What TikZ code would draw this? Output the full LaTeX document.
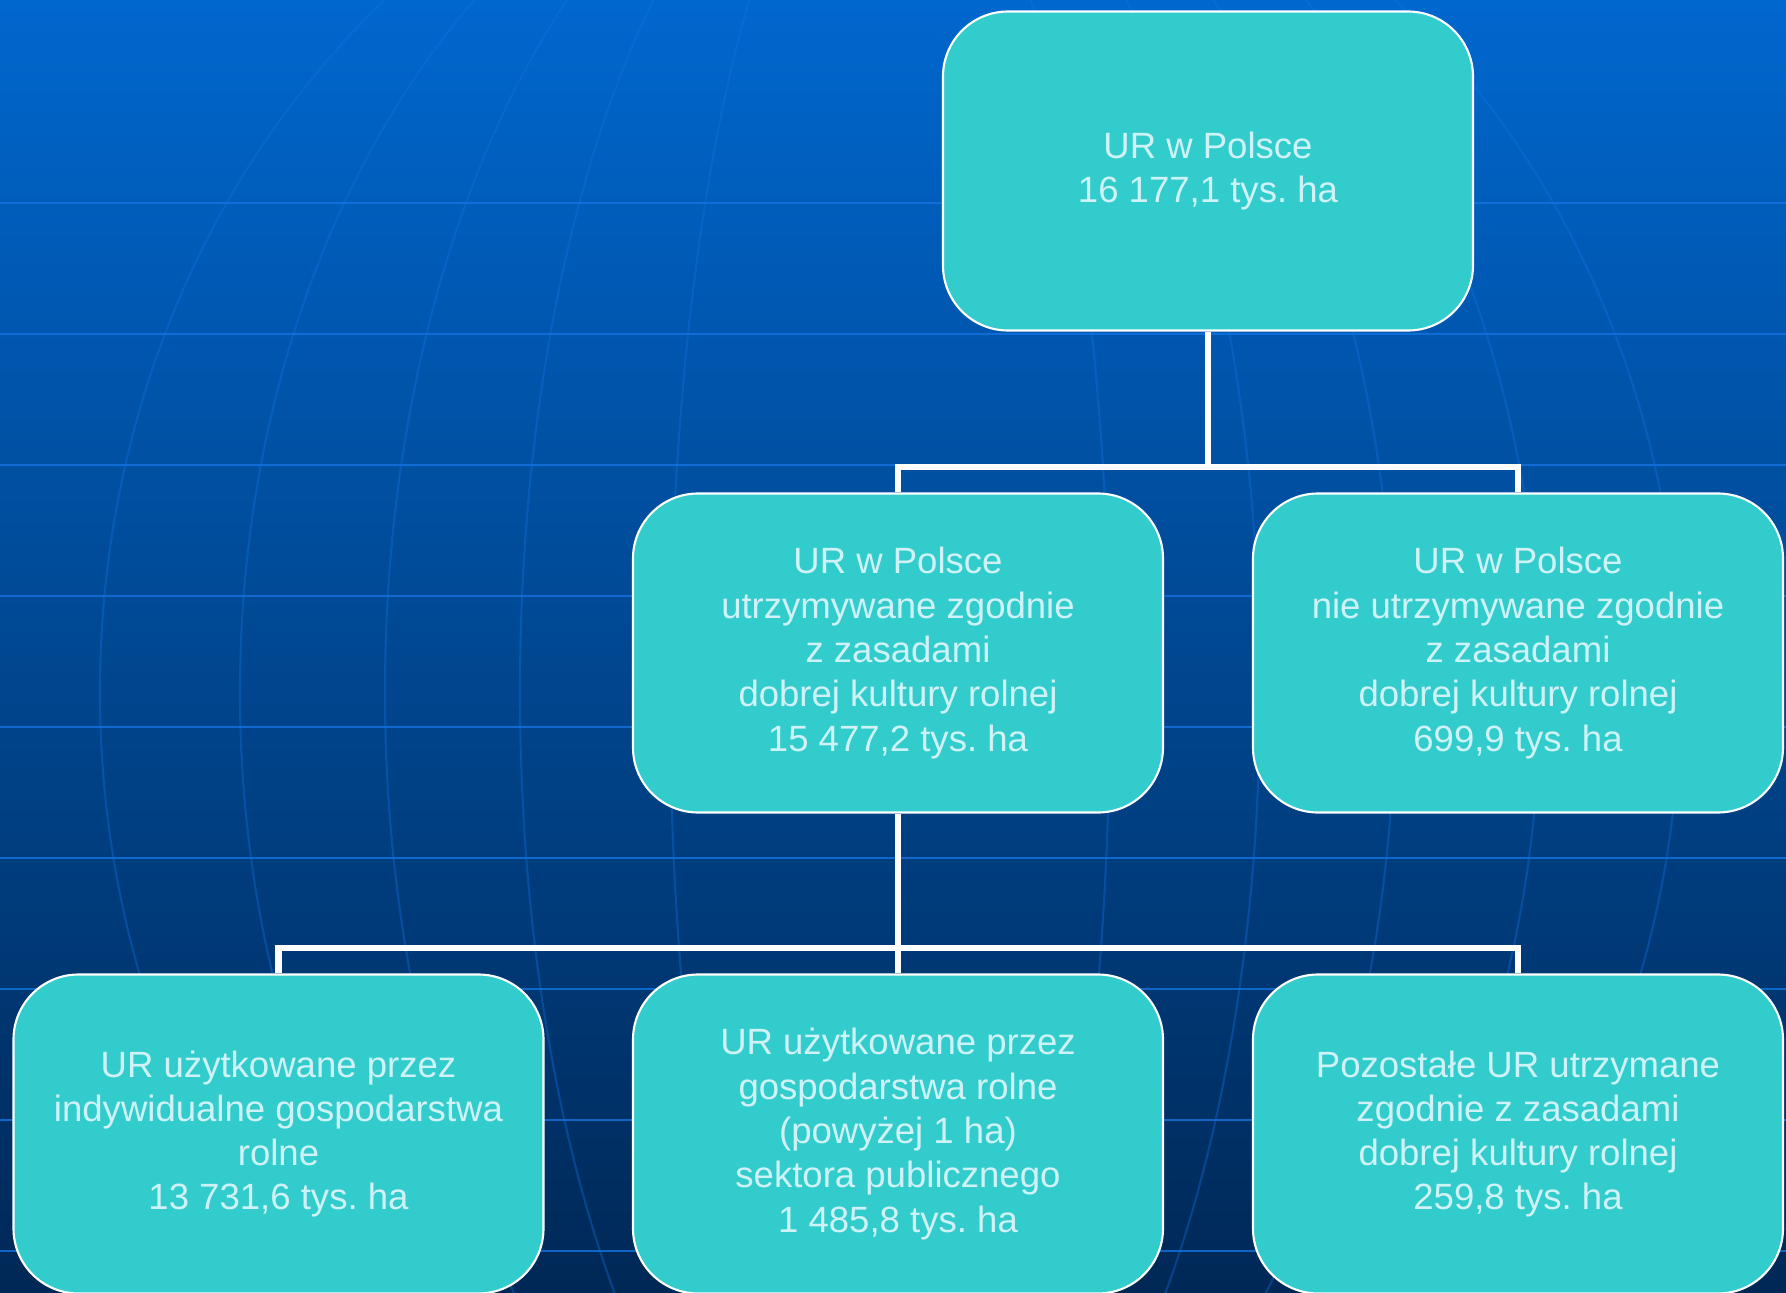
\documentclass[tikz,border=0pt]{standalone}
\usepackage{fontspec}
\setmainfont{Liberation Sans}
\usepackage{tikz}
\usetikzlibrary{calc}
\frenchspacing

\definecolor{bgtop}{RGB}{0,103,206}
\definecolor{bgbot}{RGB}{0,40,86}
\definecolor{gridblue}{RGB}{20,115,225}
\definecolor{boxfill}{RGB}{51,204,204}
\definecolor{boxtext}{RGB}{206,242,246}

\tikzset{
	urbox/.style={draw=white, line width=0.6pt, fill=boxfill, text=boxtext,
		rounded corners=0.65cm, minimum width=5.3cm, minimum height=3.19cm,
		inner sep=0pt, align=center, font=\fontsize{10.4}{12.6}\selectfont},
	conn/.style={draw=white, line width=1.9pt},
	globe/.style={draw=gridblue, line width=0.6pt, opacity=0.35}
}

\begin{document}
\begin{tikzpicture}
	\useasboundingbox (0,0) rectangle (17.86,12.92);
	\shade[top color=bgtop, bottom color=bgbot] (0,0) rectangle (17.86,12.92);
	\begin{scope}
		\clip (0,0) rectangle (17.86,12.92);
		\foreach \y in {10.89,9.58,8.27,6.96,5.65,4.34,3.03,1.72,0.41}
			\draw[globe, opacity=0.8] (0,\y) -- (17.86,\y);
		\foreach \a in {7.9,6.5,5.05,3.7,2.2}
			\draw[globe] (8.9,6.0) ellipse (\a cm and 9cm);
	\end{scope}
	\coordinate (J1) at (12.08,8.25);
	\coordinate (J2) at (8.98,3.44);
	\node[urbox] (top) at (12.08,11.21) {UR w Polsce\\16 177,1 tys. ha};
	\node[urbox] (midL) at (8.98,6.39) {UR w Polsce\\utrzymywane zgodnie\\z zasadami\\dobrej kultury rolnej\\15 477,2 tys. ha};
	\node[urbox] (midR) at (15.18,6.39) {UR w Polsce\\nie utrzymywane zgodnie\\z zasadami\\dobrej kultury rolnej\\699,9 tys. ha};
	\node[urbox] (botL) at (2.785,1.58) {UR użytkowane przez\\indywidualne gospodarstwa\\rolne\\13 731,6 tys. ha};
	\node[urbox] (botM) at (8.98,1.58) {UR użytkowane przez\\gospodarstwa rolne\\(powyżej 1 ha)\\sektora publicznego\\1 485,8 tys. ha};
	\node[urbox] (botR) at (15.18,1.58) {Pozostałe UR utrzymane\\zgodnie z zasadami\\dobrej kultury rolnej\\259,8 tys. ha};
	\draw[conn] (top.south) -- (J1);
	\draw[conn] (midL.north) |- (J1) -| (midR.north);
	\draw[conn] (midL.south) -- (J2);
	\draw[conn] (botL.north) |- (J2) -| (botR.north);
	\draw[conn] (botM.north) -- (J2);
\end{tikzpicture}
\end{document}
